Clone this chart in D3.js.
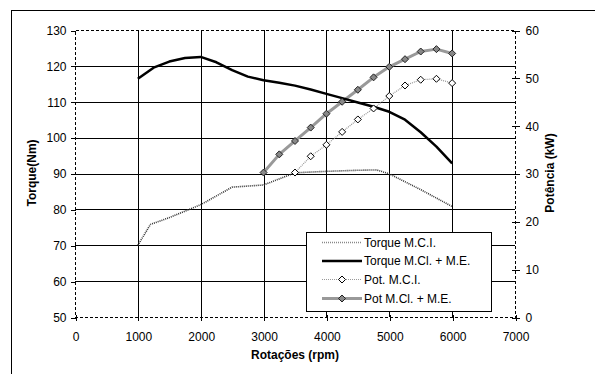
<!DOCTYPE html>
<html>
<head>
<meta charset="utf-8">
<script src="https://cdn.jsdelivr.net/npm/d3@7"></script>
<style>
  body { margin: 0; background: #fff; }
  svg { display: block; }
  svg text { font-family: "Liberation Sans", Arial, sans-serif; }
</style>
</head>
<body>
<svg id="chart" width="595" height="374"></svg>
<script>
// rpm values for each series
const rpmTorqueMCI = [1000, 1200, 1500, 2000, 2500, 3000, 3500, 4000, 4500, 4800, 5000, 5500, 6000];
const torqueMCI = [70, 75.8, 77.7, 81.3, 86.2, 86.8, 90.2, 90.6, 90.9, 91, 89.9, 85.5, 80.8];

const rpmTorqueME = [1000, 1250, 1500, 1750, 2000, 2250, 2500, 2750, 3000, 3250, 3500, 3750, 4000,
  4250, 4500, 4750, 5000, 5250, 5500, 5750, 6000];
const torqueME = [116.4, 119.5, 121.2, 122.2, 122.5, 121, 118.8, 117, 116, 115.3, 114.5, 113.4, 112.2,
  111, 109.8, 108.6, 107.2, 105, 101.5, 97.5, 92.8];

const rpmPotMCI = [3500, 3750, 4000, 4250, 4500, 4750, 5000, 5250, 5500, 5750, 6000];
const potMCI = [30.2, 33.6, 36.0, 38.7, 41.3, 43.6, 46.2, 48.4, 49.6, 49.8, 48.9];

const rpmPotME = [3000, 3250, 3500, 3750, 4000, 4250, 4500, 4750, 5000, 5250, 5500, 5750, 6000];
const potME = [30.2, 34.0, 36.8, 39.6, 42.5, 45.0, 47.5, 50.1, 52.3, 53.9, 55.5, 56.0, 55.1];

const xTicks = [0, 1000, 2000, 3000, 4000, 5000, 6000, 7000];
const yLeftTicks = [50, 60, 70, 80, 90, 100, 110, 120, 130];
const yRightTicks = [0, 10, 20, 30, 40, 50, 60];

const legendLabels = ["Torque M.C.I.", "Torque M.Cl. + M.E.", "Pot. M.C.I.", "Pot M.Cl. + M.E."];

const svg = d3.select("#chart");
const pL = 75, pR = 515, pT = 30, pB = 317;

const x = d3.scaleLinear().domain([0, 7000]).range([pL, pR]);
const yL = d3.scaleLinear().domain([50, 130]).range([pB, pT]);
const yR = d3.scaleLinear().domain([0, 60]).range([pB, pT]);

// outer frame
svg.append("rect")
  .attr("x", 11.5).attr("y", 10.5)
  .attr("width", 600).attr("height", 400)
  .attr("fill", "none").attr("stroke", "#000");

// grid
const grid = svg.append("g").attr("shape-rendering", "crispEdges");
grid.selectAll(".hg").data(yLeftTicks.slice(1, -1)).enter().append("line")
  .attr("x1", pL).attr("x2", pR)
  .attr("y1", d => Math.round(yL(d)) + 0.5).attr("y2", d => Math.round(yL(d)) + 0.5)
  .attr("stroke", "#000");
grid.selectAll(".vg").data(xTicks.slice(1, -1)).enter().append("line")
  .attr("y1", pT).attr("y2", pB)
  .attr("x1", d => Math.round(x(d)) + 0.5).attr("x2", d => Math.round(x(d)) + 0.5)
  .attr("stroke", "#000");

// dashed plot border
svg.append("rect")
  .attr("x", pL + 0.5).attr("y", pT + 0.5)
  .attr("width", pR - pL).attr("height", pB - pT)
  .attr("fill", "none").attr("stroke", "#000")
  .attr("stroke-dasharray", "3,2").attr("shape-rendering", "crispEdges");

// axes
const axL = svg.append("g").attr("transform", `translate(${pL + 0.5},0.5)`)
  .call(d3.axisLeft(yL).tickValues(yLeftTicks).tickSize(5).tickPadding(4));
const axR = svg.append("g").attr("transform", `translate(${pR + 0.5},0.5)`)
  .call(d3.axisRight(yR).tickValues(yRightTicks).tickSize(4).tickPadding(6));
const axB = svg.append("g").attr("transform", `translate(0.5,${pB + 0.5})`)
  .call(d3.axisBottom(x).tickValues(xTicks).tickFormat(d3.format("d")).tickSize(4).tickPadding(11));

[axL, axR, axB].forEach(a => {
  a.attr("font-family", "'Liberation Sans', Arial, sans-serif").attr("font-size", 12);
  a.select(".domain").remove();
  a.selectAll("text").attr("fill", "#000");
  a.selectAll("line").attr("stroke", "#000").attr("shape-rendering", "crispEdges");
});
axR.selectAll("line").attr("x1", -4);
axB.selectAll("line").attr("y1", -3).attr("y2", 3);

// axis titles
svg.append("text").attr("x", 295).attr("y", 359).attr("text-anchor", "middle")
  .attr("font-size", 12).attr("font-weight", "bold").text("Rotações (rpm)");
svg.append("text").attr("transform", "translate(36,173) rotate(-90)").attr("text-anchor", "middle")
  .attr("font-size", 12).attr("font-weight", "bold").text("Torque(Nm)");
svg.append("text").attr("transform", "translate(554,173) rotate(-90)").attr("text-anchor", "middle")
  .attr("font-size", 12).attr("font-weight", "bold").text("Potência (kW)");

// series
const lineL = (xs) => d3.line().x((d, i) => x(xs[i])).y(d => yL(d));
const lineR = (xs) => d3.line().x((d, i) => x(xs[i])).y(d => yR(d));
const diamond = "M0,-3.5L3.5,0L0,3.5L-3.5,0Z";

const styles = [
  { stroke: "#333", width: 1.6, dash: "1,1" },
  { stroke: "#000", width: 2.5, dash: null },
  { stroke: "#999", width: 1.2, dash: "1,1", marker: "#fff", mstroke: "#000" },
  { stroke: "#999", width: 3, dash: null, marker: "#888", mstroke: "#222" }
];

function drawPath(data, gen, st) {
  svg.append("path").datum(data).attr("d", gen)
    .attr("fill", "none").attr("stroke", st.stroke).attr("stroke-width", st.width)
    .attr("stroke-dasharray", st.dash).attr("stroke-linejoin", "round");
}
function drawMarkers(data, xs, y, st) {
  svg.append("g").selectAll("path").data(data).enter().append("path")
    .attr("d", diamond)
    .attr("transform", (d, i) => `translate(${x(xs[i])},${y(d)})`)
    .attr("fill", st.marker).attr("stroke", st.mstroke).attr("stroke-width", 1);
}

drawPath(potMCI, lineR(rpmPotMCI), styles[2]);
drawPath(torqueMCI, lineL(rpmTorqueMCI), styles[0]);
drawPath(potME, lineR(rpmPotME), styles[3]);
drawPath(torqueME, lineL(rpmTorqueME), styles[1]);
drawMarkers(potMCI, rpmPotMCI, yR, styles[2]);
drawMarkers(potME, rpmPotME, yR, styles[3]);

// legend
const lg = svg.append("g");
lg.append("rect").attr("x", 306.5).attr("y", 232.5).attr("width", 185).attr("height", 79)
  .attr("fill", "#fff").attr("stroke", "#000").attr("shape-rendering", "crispEdges");
const rowY = [242.5, 261, 279.5, 298.5];
legendLabels.forEach((lab, i) => {
  const st = styles[i];
  lg.append("line").attr("x1", 322).attr("x2", 362).attr("y1", rowY[i]).attr("y2", rowY[i])
    .attr("stroke", i === 0 ? "#888" : st.stroke).attr("stroke-width", st.width)
    .attr("stroke-dasharray", st.dash);
  if (st.marker) {
    lg.append("path").attr("d", diamond).attr("transform", `translate(342,${rowY[i]})`)
      .attr("fill", st.marker).attr("stroke", st.mstroke);
  }
  lg.append("text").attr("x", 364).attr("y", rowY[i]).attr("dy", "0.35em")
    .attr("font-size", 12).text(lab);
});
</script>
</body>
</html>
